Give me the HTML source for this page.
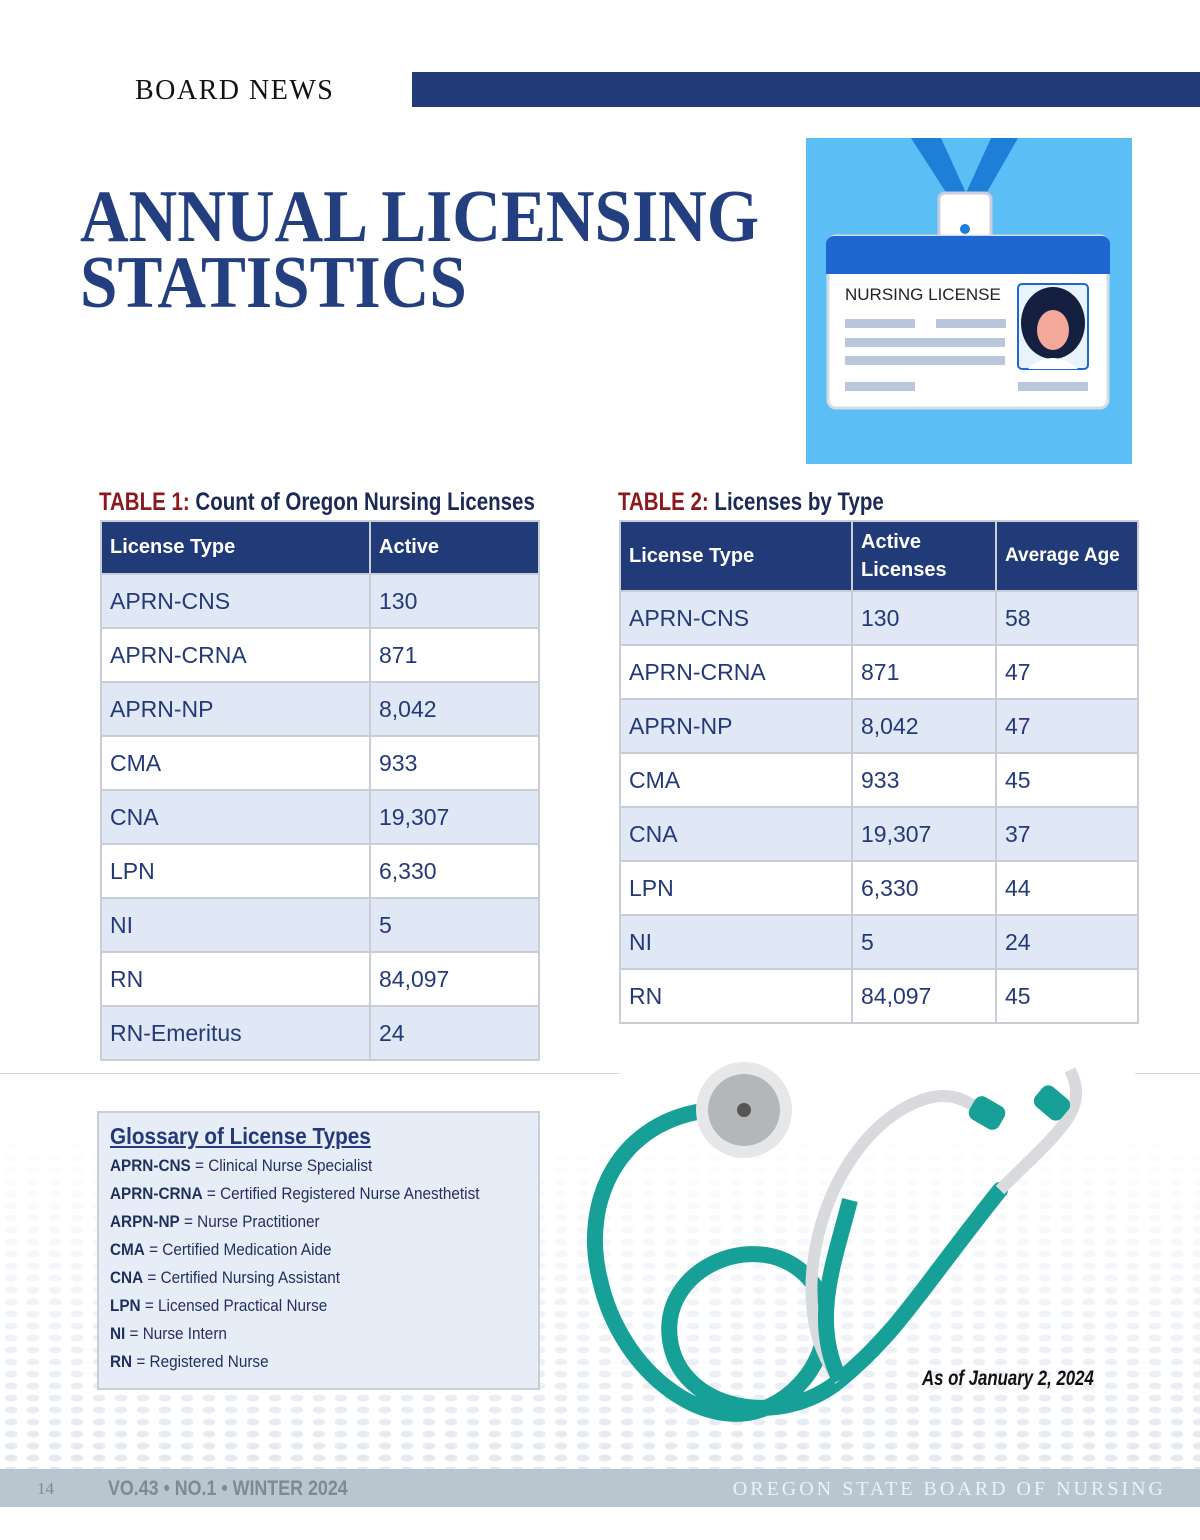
<!DOCTYPE html>
<html><head><meta charset="utf-8">
<style>
*{margin:0;padding:0;box-sizing:border-box}
body{width:1200px;height:1540px;position:relative;background:#fff;font-family:"Liberation Sans",sans-serif;overflow:hidden}
.abs{position:absolute}
.dots{left:0;top:1080px;width:1200px;height:390px;background-image:radial-gradient(ellipse,#dfe6ee 38%,transparent 44%);background-size:22px 12px;-webkit-mask-image:linear-gradient(to bottom,transparent 10%,#000 95%);mask-image:linear-gradient(to bottom,transparent 10%,#000 95%);opacity:.8}
table{border-collapse:collapse;position:absolute;color:#23397a}
td,th{border:2px solid #c9ced6;text-align:left;padding-left:8px;font-size:23px}
th{background:#213a78;color:#fff;font-weight:bold;font-size:20px;border-color:#c9ced6}
tr.b td{background:#dfe8f4}
tr.w td{background:#fff}
.ttl{font-size:25px;font-weight:bold;color:#1b2a55;transform:scaleX(.82);transform-origin:left;white-space:nowrap}
.ttl span{color:#8b1a1f}
.gl{font-size:17px;color:#1f2f5e;line-height:28px;transform:scaleX(.9);transform-origin:left;white-space:nowrap}
</style></head><body>
<div class="abs dots"></div>
<div class="abs" style="left:135px;top:75px;font-family:'Liberation Serif',serif;font-size:28px;letter-spacing:1.5px;color:#111">BOARD NEWS</div>
<div class="abs" style="left:412px;top:72px;width:788px;height:35px;background:#213a78"></div>
<div class="abs" style="left:80px;top:184px;font-family:'Liberation Serif',serif;font-weight:bold;font-size:74px;line-height:66px;color:#243f7f;transform:scaleX(.91);transform-origin:left;white-space:nowrap">ANNUAL LICENSING<br>STATISTICS</div>

<svg class="abs" style="left:806px;top:138px" width="326" height="326">
<rect width="326" height="326" fill="#5bbff5"/>
<polygon points="105,0 135,0 160,55 185,0 212,0 172,70 150,70" fill="#1e7fd8"/>
<rect x="133" y="55" width="52" height="60" rx="6" fill="#fff" stroke="#ccd" stroke-width="3"/>
<circle cx="159" cy="91" r="5" fill="#1e7fd8"/>
<rect x="22" y="98" width="280" height="172" rx="8" fill="#fff" stroke="#d7dbe3" stroke-width="3"/>
<path d="M20,106 a8,8 0 0 1 8,-8 h268 a8,8 0 0 1 8,8 v30 h-284z" fill="#1e66d0"/>
<text x="39" y="162" font-family="Liberation Sans" font-size="17" fill="#222">NURSING LICENSE</text>
<rect x="39" y="181" width="70" height="9" fill="#b9c6dc"/><rect x="130" y="181" width="70" height="9" fill="#b9c6dc"/>
<rect x="39" y="200" width="160" height="9" fill="#b9c6dc"/><rect x="39" y="218" width="160" height="9" fill="#b9c6dc"/>
<rect x="39" y="244" width="70" height="9" fill="#b9c6dc"/><rect x="212" y="244" width="70" height="9" fill="#b9c6dc"/>
<rect x="212" y="146" width="70" height="85" rx="4" fill="#e9f3fb" stroke="#1e66d0" stroke-width="2"/>
<ellipse cx="247" cy="185" rx="32" ry="36" fill="#152040"/>
<ellipse cx="247" cy="192" rx="16" ry="20" fill="#f3a89a"/>
<path d="M222,231 q25,-22 50,0z" fill="#fff"/>
</svg>

<div class="abs ttl" style="left:99px;top:488px"><span>TABLE 1:</span> Count of Oregon Nursing Licenses</div>
<table style="left:100px;top:520px;width:440px">
<tr style="height:53px"><th style="width:269px">License Type</th><th>Active</th></tr>
<tr class="b" style="height:54px"><td>APRN-CNS</td><td>130</td></tr>
<tr class="w" style="height:54px"><td>APRN-CRNA</td><td>871</td></tr>
<tr class="b" style="height:54px"><td>APRN-NP</td><td>8,042</td></tr>
<tr class="w" style="height:54px"><td>CMA</td><td>933</td></tr>
<tr class="b" style="height:54px"><td>CNA</td><td>19,307</td></tr>
<tr class="w" style="height:54px"><td>LPN</td><td>6,330</td></tr>
<tr class="b" style="height:54px"><td>NI</td><td>5</td></tr>
<tr class="w" style="height:54px"><td>RN</td><td>84,097</td></tr>
<tr class="b" style="height:54px"><td>RN-Emeritus</td><td>24</td></tr>
</table>

<div class="abs ttl" style="left:618px;top:488px"><span>TABLE 2:</span> Licenses by Type</div>
<table style="left:619px;top:520px;width:520px">
<tr style="height:70px"><th style="width:232px">License Type</th><th style="width:144px;line-height:28px">Active<br>Licenses</th><th style="font-size:19px">Average Age</th></tr>
<tr class="b" style="height:54px"><td>APRN-CNS</td><td>130</td><td>58</td></tr>
<tr class="w" style="height:54px"><td>APRN-CRNA</td><td>871</td><td>47</td></tr>
<tr class="b" style="height:54px"><td>APRN-NP</td><td>8,042</td><td>47</td></tr>
<tr class="w" style="height:54px"><td>CMA</td><td>933</td><td>45</td></tr>
<tr class="b" style="height:54px"><td>CNA</td><td>19,307</td><td>37</td></tr>
<tr class="w" style="height:54px"><td>LPN</td><td>6,330</td><td>44</td></tr>
<tr class="b" style="height:54px"><td>NI</td><td>5</td><td>24</td></tr>
<tr class="w" style="height:54px"><td>RN</td><td>84,097</td><td>45</td></tr>
</table>

<div class="abs" style="left:0;top:1073px;width:1200px;height:1px;background:#d5d9de"></div>

<div class="abs" style="left:97px;top:1111px;width:443px;height:279px;background:#e6edf7;border:2px solid #c9ced6;padding:10px 0 0 11px">
<div style="font-size:23px;font-weight:bold;color:#23397a;text-decoration:underline;margin-bottom:2px;transform:scaleX(.9);transform-origin:left;white-space:nowrap">Glossary of License Types</div>
<div class="gl"><b>APRN-CNS</b> = Clinical Nurse Specialist<br><b>APRN-CRNA</b> = Certified Registered Nurse Anesthetist<br><b>ARPN-NP</b> = Nurse Practitioner<br><b>CMA</b> = Certified Medication Aide<br><b>CNA</b> = Certified Nursing Assistant<br><b>LPN</b> = Licensed Practical Nurse<br><b>NI</b> = Nurse Intern<br><b>RN</b> = Registered Nurse</div>
</div>

<svg class="abs" style="left:580px;top:1050px" width="560" height="400">
<rect x="40" y="5" width="515" height="20" fill="#fff"/>
<path d="M130,60 C40,70 0,150 20,230 C40,320 120,380 180,360 C240,340 270,260 220,220 C170,180 80,220 90,290 C100,360 200,380 260,330 C320,280 340,240 420,140" fill="none" stroke="#17a097" stroke-width="16" stroke-linecap="round"/>
<path d="M260,330 C200,260 240,100 330,55 C360,40 380,45 400,60" fill="none" stroke="#d8dadd" stroke-width="12"/>
<path d="M260,330 C230,270 255,210 270,150" fill="none" stroke="#17a097" stroke-width="16"/>
<path d="M420,140 C480,80 510,60 490,20" fill="none" stroke="#d8dadd" stroke-width="12"/>
<rect x="390" y="50" width="34" height="26" rx="8" fill="#17a097" transform="rotate(30 407 63)"/>
<rect x="455" y="40" width="34" height="26" rx="8" fill="#17a097" transform="rotate(40 472 53)"/>
<circle cx="164" cy="60" r="48" fill="#e6e7e9"/><circle cx="164" cy="60" r="36" fill="#b4b6ba"/><circle cx="164" cy="60" r="7" fill="#555"/>
</svg>
<div class="abs" style="left:922px;top:1367px;font-size:21px;font-style:italic;font-weight:bold;color:#111;transform:scaleX(.8);transform-origin:left;white-space:nowrap">As of January 2, 2024</div>

<div class="abs" style="left:0;top:1469px;width:1200px;height:38px;background:#b9c6cf"></div>
<div class="abs" style="left:37px;top:1479px;font-family:'Liberation Serif',serif;font-size:17px;color:#7d8a94">14</div>
<div class="abs" style="left:108px;top:1477px;font-size:21px;font-weight:bold;color:#7d8a94;transform:scaleX(.85);transform-origin:left;white-space:nowrap">VO.43 • NO.1 • WINTER 2024</div>
<div class="abs" style="right:34px;top:1478px;font-family:'Liberation Serif',serif;font-size:20px;letter-spacing:3px;color:#eef2f5">OREGON STATE BOARD OF NURSING</div>
</body></html>
